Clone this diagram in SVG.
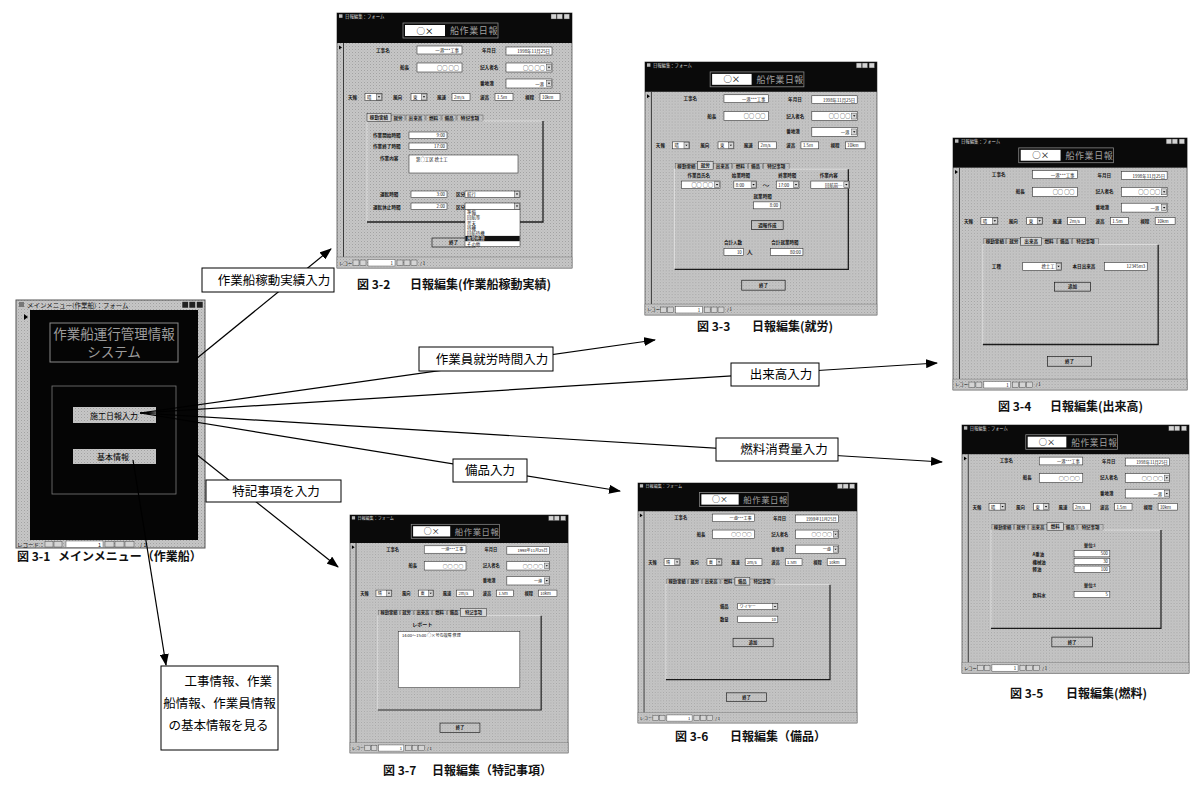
<svg xmlns="http://www.w3.org/2000/svg" width="1200" height="785" viewBox="0 0 1200 785">
<defs>
<style>
.j{font-family:"Noto Sans CJK JP","Noto Sans",sans-serif}
.m{font-family:"Liberation Serif","Noto Sans CJK JP",serif;font-size:12.5px;fill:#000}
.cap{font-family:"Noto Sans CJK JP","Noto Sans",sans-serif;font-size:12px;font-weight:bold;fill:#111}
.lb{font-family:"Noto Sans CJK JP","Noto Sans",sans-serif;font-size:4.6px;font-weight:bold;fill:#151515}
.tv{font-family:"Noto Sans CJK JP","Noto Sans",sans-serif;font-size:4.4px;fill:#111}
.oo{font-family:"Noto Sans CJK JP","Noto Sans",sans-serif;font-size:5.2px;fill:#111}
.bx{fill:#fff;stroke:#333;stroke-width:.6}
.bt{fill:url(#tex);stroke:#1a1a1a;stroke-width:.7}
.tab{fill:url(#tex);stroke:#444;stroke-width:.4}
.tabA{fill:#d8d8d8;stroke:#222;stroke-width:.5}
.nb{fill:#d4d4d4;stroke:#333;stroke-width:.4}
.lbox{fill:#fff;stroke:#000;stroke-width:1}
.con{fill:none;stroke:#000;stroke-width:1.2}
</style>
<pattern id="tex" width="3" height="3" patternUnits="userSpaceOnUse">
<rect width="3" height="3" fill="#c6c6c6"/>
<rect width="1" height="1" fill="#a2a2a2"/>
<rect x="1.5" y="1.5" width="1" height="1" fill="#b4b4b4"/>
</pattern>
<marker id="ah" viewBox="0 0 12 9" refX="11" refY="4.5" markerWidth="12" markerHeight="9" markerUnits="userSpaceOnUse" orient="auto"><path d="M0 0L12 4.5L0 9z" fill="#000"/></marker>
<g id="dd"><rect width="5" height="6" fill="#d6d6d6" stroke="#222" stroke-width=".4"/><path d="M1.3 2.3h2.4l-1.2 1.5z" fill="#000"/></g>
<g id="formBase">
<rect width="235" height="255" fill="url(#tex)" stroke="#555" stroke-width=".8"/>
<rect width="235" height="30" fill="#0a0a0a"/>
<rect x="2" y="1.3" width="3.5" height="3.5" fill="#bbb"/>
<text x="8" y="5" class="j" font-size="4.4" fill="#d8d8d8">日報編集：フォーム</text>
<rect x="214" y="1" width="5.5" height="5" class="nb"/>
<rect x="220" y="1" width="5.5" height="5" class="nb"/>
<rect x="227" y="1" width="5.5" height="5" class="nb"/>
<rect x="66" y="10" width="95" height="15" fill="none" stroke="#8a8a8a" stroke-width=".8"/>
<rect x="68" y="12" width="40" height="11" fill="#fff"/>
<text x="88" y="20.6" text-anchor="middle" class="j" font-size="8.5" fill="#000">○×</text>
<text x="113" y="21.3" class="j" font-size="9" fill="#a0a0a0" letter-spacing=".6">船作業日報</text>
<line x1="6.5" y1="30" x2="6.5" y2="244" stroke="#3a3a3a" stroke-width="1"/>
<path d="M2 32.5L5 34.5L2 36.5z" fill="#000"/>
<text x="39" y="38.5" class="lb">工事名</text>
<rect x="80" y="33" width="45" height="8" class="bx"/>
<text x="122" y="39" class="tv" text-anchor="end">一港***工事</text>
<text x="145" y="39" class="lb">年月日</text>
<rect x="169" y="34" width="46" height="8" class="bx"/>
<text x="213" y="40" class="tv" text-anchor="end">1998年11月25日</text>
<text x="63" y="56" class="lb">船長</text>
<rect x="80" y="50" width="45" height="9" class="bx"/>
<text x="122" y="56.5" class="oo" text-anchor="end">○○ ○○</text>
<text x="143" y="56" class="lb">記入者名</text>
<rect x="169" y="50" width="46" height="9" class="bx"/>
<text x="208" y="56.5" class="oo" text-anchor="end">○○ ○○</text>
<use href="#dd" x="209.5" y="51.5"/>
<text x="143" y="72" class="lb">番地港</text>
<rect x="169" y="66" width="46" height="9" class="bx"/>
<text x="207" y="72.5" class="tv" text-anchor="end">一港</text>
<use href="#dd" x="209.5" y="67.5"/>
<text x="11" y="86" class="lb">天候</text>
<rect x="28" y="80.5" width="17" height="7" class="bx"/>
<text x="30" y="86" class="tv">晴</text>
<use href="#dd" x="39.5" y="81"/>
<text x="56" y="86" class="lb">風向</text>
<rect x="74" y="80.5" width="16" height="7" class="bx"/>
<text x="76" y="86" class="tv">東</text>
<use href="#dd" x="84.5" y="81"/>
<text x="100" y="86" class="lb">風速</text>
<rect x="115" y="80.5" width="18" height="7" class="bx"/>
<text x="117" y="86" class="tv">2m/s</text>
<text x="143" y="86" class="lb">波高</text>
<rect x="158" y="80.5" width="18" height="7" class="bx"/>
<text x="160" y="86" class="tv">1.5m</text>
<text x="188" y="86" class="lb">視程</text>
<rect x="203" y="80.5" width="20" height="7" class="bx"/>
<text x="205" y="86" class="tv">10km</text>
<rect x="31" y="102" width="22" height="6" class="tab"/><text x="42" y="106.6" class="lb" text-anchor="middle">稼動実績</text>
<rect x="54" y="102" width="14" height="6" class="tab"/><text x="61" y="106.6" class="lb" text-anchor="middle">就労</text>
<rect x="69" y="102" width="19" height="6" class="tab"/><text x="78.5" y="106.6" class="lb" text-anchor="middle">出来高</text>
<rect x="89" y="102" width="15" height="6" class="tab"/><text x="96.5" y="106.6" class="lb" text-anchor="middle">燃料</text>
<rect x="105" y="102" width="14" height="6" class="tab"/><text x="112" y="106.6" class="lb" text-anchor="middle">備品</text>
<rect x="120" y="102" width="26" height="6" class="tab"/><text x="133" y="106.6" class="lb" text-anchor="middle">特記事項</text>
<rect x="30" y="108" width="176" height="101" fill="none" stroke="#eee" stroke-width=".6"/>
<path d="M206 108V209H30" fill="none" stroke="#1a1a1a" stroke-width="1.3"/>
<rect x="0" y="244" width="235" height="11" fill="url(#tex)" stroke="#666" stroke-width=".4"/>
<text x="2" y="251.5" class="tv">レコード：</text>
<rect x="16" y="247" width="6" height="5.5" class="nb"/>
<rect x="23" y="247" width="6" height="5.5" class="nb"/>
<rect x="31" y="246.5" width="27" height="6.5" fill="#fff" stroke="#333" stroke-width=".4"/>
<text x="56" y="251.8" class="tv" text-anchor="end">1</text>
<rect x="60" y="247" width="6" height="5.5" class="nb"/>
<rect x="67" y="247" width="6" height="5.5" class="nb"/>
<rect x="74" y="247" width="6" height="5.5" class="nb"/>
<text x="83" y="251.5" class="tv">/ 1</text>
</g>
</defs>

<rect width="1200" height="785" fill="#fff"/>

<g id="fig31-main-menu">
<rect x="16" y="300" width="189" height="248" fill="url(#tex)" stroke="#555" stroke-width="1"/>
<rect x="19" y="302" width="5" height="5" fill="#777"/>
<text x="27" y="307.5" class="j" font-size="6.5" fill="#111">メインメニュー(作業船)：フォーム</text>
<rect x="182" y="301.5" width="6.5" height="6.5" fill="#222" stroke="#ddd" stroke-width=".5"/>
<rect x="189" y="301.5" width="6.5" height="6.5" fill="#222" stroke="#ddd" stroke-width=".5"/>
<rect x="196.5" y="301.5" width="6.5" height="6.5" fill="#222" stroke="#ddd" stroke-width=".5"/>
<rect x="30" y="310" width="168" height="230" fill="#050505"/>
<path d="M24 314l4 3l-4 3z" fill="#000"/>
<rect x="50" y="323" width="128" height="39" fill="none" stroke="#8a8a8a" stroke-width="1"/>
<text x="114" y="339" text-anchor="middle" class="j" font-size="13.5" fill="#9c9c9c">作業船運行管理情報</text>
<text x="114" y="357" text-anchor="middle" class="j" font-size="13.5" fill="#9c9c9c">システム</text>
<rect x="52" y="386" width="124" height="108" fill="none" stroke="#7a7a7a" stroke-width=".8"/>
<rect x="73" y="407" width="83" height="16" fill="url(#tex)"/>
<text x="114" y="418.5" text-anchor="middle" class="j" font-size="8" fill="#000">施工日報入力</text>
<rect x="73" y="449" width="83" height="15" fill="url(#tex)"/>
<text x="113" y="460" text-anchor="middle" class="j" font-size="8" fill="#000">基本情報</text>
<text x="17" y="546.5" class="j" font-size="5.5" fill="#111">レコード：</text>
<rect x="45" y="541.5" width="8" height="5.5" class="nb"/>
<rect x="54" y="541.5" width="8" height="5.5" class="nb"/>
<rect x="66" y="541" width="37" height="6.5" fill="#fff" stroke="#333" stroke-width=".4"/>
<text x="101" y="546.5" class="j" font-size="5.5" text-anchor="end" fill="#111">1</text>
<rect x="105" y="541.5" width="9" height="5.5" class="nb"/>
<rect x="115" y="541.5" width="9" height="5.5" class="nb"/>
<rect x="125" y="541.5" width="9" height="5.5" class="nb"/>
<text x="140" y="546.5" class="j" font-size="5.5" fill="#111">/ 1</text>
<text y="561" class="cap" font-size="11"><tspan x="17">図 3-1</tspan><tspan x="58">メインメニュー（作業船）</tspan></text>
</g>

<g id="fig32">
<g transform="translate(337,13)">
<use href="#formBase"/>
<rect x="30" y="100.5" width="24" height="8" class="tabA"/><text x="42" y="106.3" class="lb" text-anchor="middle">稼動実績</text>
<text x="36" y="124" class="lb">作業開始時間</text>
<rect x="72" y="119" width="38" height="6.5" class="bx"/><text x="108" y="124" class="tv" text-anchor="end">9:00</text>
<text x="36" y="135" class="lb">作業終了時間</text>
<rect x="72" y="130" width="38" height="6.5" class="bx"/><text x="108" y="135" class="tv" text-anchor="end">17:00</text>
<text x="43" y="147" class="lb">作業内容</text>
<rect x="72" y="142" width="109" height="18" class="bx"/><text x="79" y="148" class="tv">第○工区 捨土工</text>
<text x="43" y="183" class="lb">運転時間</text>
<rect x="74" y="178" width="36" height="6.5" class="bx"/><text x="108" y="183" class="tv" text-anchor="end">3:00</text>
<text x="119" y="183" class="lb">区分</text>
<rect x="128" y="178" width="55" height="6.5" class="bx"/><text x="130" y="183" class="tv">航行</text>
<use href="#dd" x="177.5" y="178.3"/>
<text x="36" y="195.5" class="lb">運転休止時間</text>
<rect x="74" y="190" width="36" height="6.5" class="bx"/><text x="108" y="195" class="tv" text-anchor="end">2:00</text>
<text x="119" y="195.5" class="lb">区分</text>
<rect x="128" y="190" width="55" height="6.5" class="bx"/>
<use href="#dd" x="177.5" y="190.3"/>
<rect x="95" y="225" width="43" height="9" class="bt"/><text x="116.5" y="231.3" class="lb" text-anchor="middle">終了</text>
<rect x="128" y="196.5" width="55" height="37" fill="#fff" stroke="#222" stroke-width=".5"/>
<rect x="128.3" y="222.9" width="54.4" height="5.3" fill="#111"/>
<text x="130" y="201" class="tv">準備</text>
<text x="130" y="206.3" class="tv">回航等</text>
<text x="130" y="211.6" class="tv">荒天</text>
<text x="130" y="216.9" class="tv">待機</text>
<text x="130" y="222.2" class="tv">回航待機</text>
<text x="130" y="227.4" class="tv" style="fill:#fff">故障修理</text>
<text x="130" y="232.7" class="tv">その他</text>
</g>
<text y="289" class="cap"><tspan x="357">図 3-2</tspan><tspan x="410">日報編集(作業船稼動実績)</tspan></text>
</g>

<g id="fig33">
<g transform="translate(645,62) scale(.987,.992)">
<use href="#formBase"/>
<rect x="53" y="100.5" width="16" height="8" class="tabA"/><text x="61" y="106.3" class="lb" text-anchor="middle">就労</text>
<text x="43" y="116" class="lb">作業員氏名</text>
<text x="88" y="116" class="lb">始業時間</text>
<text x="135" y="116" class="lb">終業時間</text>
<text x="177" y="116" class="lb">作業内容</text>
<rect x="37" y="120" width="39" height="7.5" class="bx"/><text x="69" y="125.8" class="oo" text-anchor="end">○○ ○○</text><use href="#dd" x="70.5" y="120.8"/>
<rect x="90" y="120" width="23" height="7.5" class="bx"/><text x="92" y="125.6" class="tv">8:00</text><use href="#dd" x="107.5" y="120.8"/>
<text x="119" y="127" class="j" font-size="7" fill="#111">～</text>
<rect x="133" y="120" width="23" height="7.5" class="bx"/><text x="135" y="125.6" class="tv">17:00</text><use href="#dd" x="150.5" y="120.8"/>
<rect x="168" y="120" width="39" height="7.5" class="bx"/><text x="200" y="125.6" class="tv" text-anchor="end">回航前…</text><use href="#dd" x="201.5" y="120.8"/>
<text x="110" y="137" class="lb">就業時間</text>
<rect x="110" y="141" width="27" height="7" class="bx"/><text x="135" y="146.3" class="tv" text-anchor="end">8:00</text>
<rect x="108" y="160" width="32" height="9" class="bt"/><text x="124" y="166.3" class="lb" text-anchor="middle">週報作成</text>
<text x="80" y="183" class="lb">合計人数</text>
<rect x="80" y="188" width="20" height="7" class="bx"/><text x="98" y="193.3" class="tv" text-anchor="end">10</text>
<text x="103" y="194" class="lb" style="font-size:6px">人</text>
<text x="128" y="183" class="lb">合計就業時間</text>
<rect x="127" y="188" width="33" height="7" class="bx"/><text x="158" y="193.3" class="tv" text-anchor="end">80:00</text>
<rect x="98" y="220" width="44" height="10" class="bt"/><text x="120" y="226.8" class="lb" text-anchor="middle">終了</text>
</g>
<text y="331" class="cap"><tspan x="697">図 3-3</tspan><tspan x="752">日報編集(就労)</tspan></text>
</g>

<g id="fig34">
<g transform="translate(953,138) scale(.996,.988)">
<use href="#formBase"/>
<rect x="68" y="100.5" width="21" height="8" class="tabA"/><text x="78.5" y="106.3" class="lb" text-anchor="middle">出来高</text>
<text x="39" y="131.5" class="lb">工種</text>
<rect x="70" y="126" width="39" height="8" class="bx"/><text x="102" y="132" class="tv" text-anchor="end">捨土工</text><use href="#dd" x="103.5" y="127"/>
<text x="120" y="131.5" class="lb">本日出来高</text>
<rect x="152" y="126" width="43" height="8" class="bx"/><text x="193" y="132" class="tv" text-anchor="end">12345m3</text>
<rect x="102" y="146" width="36" height="9" class="bt"/><text x="120" y="152.3" class="lb" text-anchor="middle">追加</text>
<rect x="95" y="221" width="44" height="10" class="bt"/><text x="117" y="227.8" class="lb" text-anchor="middle">終了</text>
</g>
<text y="411" class="cap"><tspan x="998">図 3-4</tspan><tspan x="1050">日報編集(出来高)</tspan></text>
</g>

<g id="fig35">
<g transform="translate(962,425) scale(.966,.973)">
<use href="#formBase"/>
<rect x="88" y="100.5" width="17" height="8" class="tabA"/><text x="96.5" y="106.3" class="lb" text-anchor="middle">燃料</text>
<text x="126" y="125" class="lb">単位:l</text>
<text x="73" y="134.5" class="lb">A重油</text>
<rect x="116" y="129" width="37" height="6.5" class="bx"/><text x="151" y="134" class="tv" text-anchor="end">500</text>
<text x="73" y="142.5" class="lb">機械油</text>
<rect x="116" y="137" width="37" height="6.5" class="bx"/><text x="151" y="142" class="tv" text-anchor="end">30</text>
<text x="73" y="150.5" class="lb">軽油</text>
<rect x="116" y="145" width="37" height="6.5" class="bx"/><text x="151" y="150" class="tv" text-anchor="end">100</text>
<text x="126" y="167" class="lb">単位:t</text>
<text x="73" y="176.5" class="lb">飲料水</text>
<rect x="116" y="171" width="37" height="6.5" class="bx"/><text x="151" y="176" class="tv" text-anchor="end">5</text>
<rect x="93" y="218" width="42" height="10" class="bt"/><text x="114" y="224.8" class="lb" text-anchor="middle">終了</text>
</g>
<text y="698" class="cap"><tspan x="1010">図 3-5</tspan><tspan x="1066">日報編集(燃料)</tspan></text>
</g>

<g id="fig36">
<g transform="translate(638,483) scale(.932,.941)">
<use href="#formBase"/>
<rect x="104" y="100.5" width="16" height="8" class="tabA"/><text x="112" y="106.3" class="lb" text-anchor="middle">備品</text>
<text x="88" y="133" class="lb">備品</text>
<rect x="107" y="128" width="43" height="6.5" class="bx"/><text x="109" y="133" class="tv">ワイヤー</text><use href="#dd" x="144.5" y="128.3"/>
<text x="88" y="146.5" class="lb">数量</text>
<rect x="107" y="141.5" width="43" height="6.5" class="bx"/><text x="148" y="146.5" class="tv" text-anchor="end">10</text>
<rect x="102" y="165" width="43" height="9" class="bt"/><text x="123.5" y="171.3" class="lb" text-anchor="middle">追加</text>
<rect x="95" y="223" width="43" height="9" class="bt"/><text x="116.5" y="229.3" class="lb" text-anchor="middle">終了</text>
</g>
<text y="741" class="cap"><tspan x="675">図 3-6</tspan><tspan x="730">日報編集（備品）</tspan></text>
</g>

<g id="fig37">
<g transform="translate(350,515) scale(.928,.933)">
<use href="#formBase"/>
<rect x="119" y="100.5" width="28" height="8" class="tabA"/><text x="133" y="106.3" class="lb" text-anchor="middle">特記事項</text>
<text x="67" y="119" class="lb" style="font-size:5.5px">レポート</text>
<rect x="52" y="125" width="131" height="60" class="bx"/>
<text x="56" y="130.5" class="tv">14:00～15:00 ○×号の故障 修理</text>
<rect x="97" y="223" width="43" height="10" class="bt"/><text x="118.5" y="229.8" class="lb" text-anchor="middle">終了</text>
</g>
<text y="775" class="cap"><tspan x="383">図 3-7</tspan><tspan x="432">日報編集（特記事項）</tspan></text>
</g>

<g id="connectors">
<line class="con" x1="196" y1="359" x2="331" y2="249" marker-end="url(#ah)"/>
<line class="con" x1="140" y1="413" x2="655" y2="340" marker-end="url(#ah)"/>
<line class="con" x1="140" y1="413" x2="937" y2="363" marker-end="url(#ah)"/>
<line class="con" x1="140" y1="413" x2="942" y2="462" marker-end="url(#ah)"/>
<line class="con" x1="140" y1="413" x2="620" y2="491" marker-end="url(#ah)"/>
<line class="con" x1="196" y1="454" x2="338" y2="567" marker-end="url(#ah)"/>
<line class="con" x1="133" y1="460" x2="166" y2="665" marker-end="url(#ah)"/>
</g>

<g id="lbl-kado"><rect class="lbox" x="202" y="268" width="132" height="24"/><text class="m" x="274" y="284.5" text-anchor="middle">作業船稼動実績入力</text></g>
<g id="lbl-shuro"><rect class="lbox" x="419" y="347" width="134" height="24"/><text class="m" x="492" y="363.5" text-anchor="middle">作業員就労時間入力</text></g>
<g id="lbl-dekidaka"><rect class="lbox" x="731" y="363" width="88" height="23"/><text class="m" x="781" y="379" text-anchor="middle">出来高入力</text></g>
<g id="lbl-nenryo"><rect class="lbox" x="716" y="438" width="122" height="23"/><text class="m" x="784" y="454" text-anchor="middle">燃料消費量入力</text></g>
<g id="lbl-bihin"><rect class="lbox" x="453" y="459" width="74" height="23"/><text class="m" x="490" y="475" text-anchor="middle">備品入力</text></g>
<g id="lbl-tokki"><rect class="lbox" x="206" y="480" width="135" height="22"/><text class="m" x="276" y="495.5" text-anchor="middle">特記事項を入力</text></g>

<g id="node-kihon">
<rect class="lbox" x="161" y="666" width="117" height="84"/>
<text class="m" x="272" y="686" text-anchor="end">工事情報、作業</text>
<text class="m" x="219.5" y="708" text-anchor="middle">船情報、作業員情報</text>
<text class="m" x="218.5" y="730" text-anchor="middle">の基本情報を見る</text>
</g>
</svg>
